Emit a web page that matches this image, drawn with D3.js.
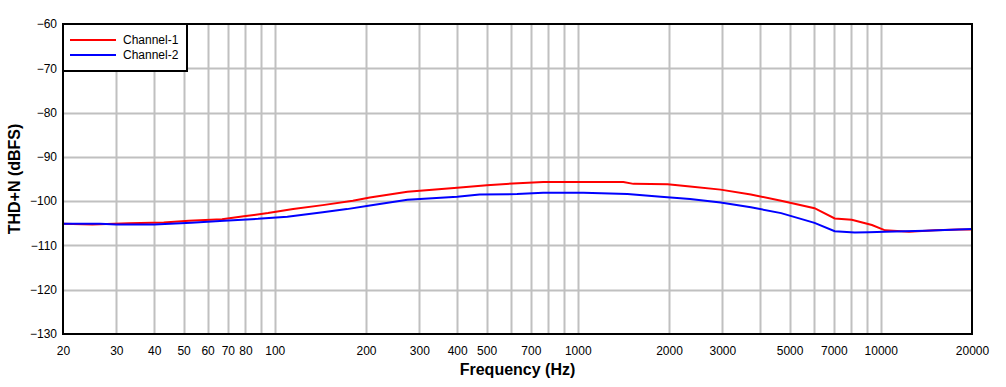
<!DOCTYPE html>
<html>
<head>
<meta charset="utf-8">
<script src="https://cdn.jsdelivr.net/npm/d3@7"></script>
<style>
    body { margin: 0; background: #fff; }
    text { font-family: "Liberation Sans", Arial, sans-serif; }
</style>
</head>
<body>
<div id="chart"></div>
<script>
// frequency (Hz) / THD+N (dBFS)
const ch1Freq = [20, 25, 33, 43, 52, 67, 79, 95, 115, 144, 181, 206, 274, 400, 501, 611, 769, 1020, 1414, 1526, 1980, 2347, 2960, 3725, 4688, 6044, 7047, 8020, 9350, 10330, 12400, 15100, 18100, 20000];
const ch1Db   = [-105.1, -105.3, -105.0, -104.8, -104.4, -104.1, -103.4, -102.7, -101.8, -100.9, -99.9, -99.2, -97.9, -97.0, -96.4, -96.0, -95.7, -95.7, -95.7, -96.1, -96.2, -96.7, -97.4, -98.5, -99.9, -101.6, -103.9, -104.2, -105.4, -106.6, -106.9, -106.6, -106.4, -106.4];

const ch2Freq = [20, 26.5, 30, 40, 53, 68, 88, 110, 144, 173, 206, 274, 400, 474, 630, 769, 1044, 1458, 1880, 2347, 2960, 3725, 4688, 6044, 7047, 8200, 9130, 10330, 14000, 20000];
const ch2Db   = [-105.1, -105.1, -105.3, -105.3, -104.9, -104.4, -104.0, -103.5, -102.5, -101.8, -101.0, -99.7, -99.0, -98.5, -98.4, -98.1, -98.1, -98.4, -99.0, -99.5, -100.3, -101.4, -102.7, -104.9, -106.8, -107.1, -107.0, -106.9, -106.7, -106.3];

const xTickLabels = [20, 30, 40, 50, 60, 70, 80, 100, 200, 300, 400, 500, 700, 1000, 2000, 3000, 5000, 7000, 10000, 20000];
const yTicks = [-60, -70, -80, -90, -100, -110, -120, -130];
const seriesNames = ['Channel-1', 'Channel-2'];
const seriesColors = ['#ff0000', '#0000ff'];

const W = 1006, H = 387;
const margin = { top: 24, right: 34, bottom: 53, left: 63 };
const width = W - margin.left - margin.right;
const height = H - margin.top - margin.bottom;

const svg = d3.select('#chart').append('svg')
    .attr('width', W)
    .attr('height', H);

const g = svg.append('g')
    .attr('transform', `translate(${margin.left},${margin.top})`);

const x = d3.scaleLog().domain([20, 20000]).range([0, width]);
const y = d3.scaleLinear().domain([-130, -60]).range([height, 0]);

// gridlines at every 1..9 multiple of each decade
const gridFreqs = [];
[10, 100, 1000, 10000].forEach(dec => {
    for (let m = 1; m <= 9; m++) {
        const f = dec * m;
        if (f > 20 && f < 20000) gridFreqs.push(f);
    }
});

g.append('g')
    .selectAll('line')
    .data(gridFreqs)
    .join('line')
    .attr('x1', d => Math.round(x(d)) + 0.5)
    .attr('x2', d => Math.round(x(d)) + 0.5)
    .attr('y1', 0)
    .attr('y2', height)
    .attr('stroke', '#c0c0c0')
    .attr('stroke-width', 2);

g.append('g')
    .selectAll('line')
    .data(yTicks.slice(1, -1))
    .join('line')
    .attr('x1', 0)
    .attr('x2', width)
    .attr('y1', d => Math.round(y(d)) + 0.5)
    .attr('y2', d => Math.round(y(d)) + 0.5)
    .attr('stroke', '#c0c0c0')
    .attr('stroke-width', 2);

// axes (tick labels only, the frame is drawn below)
const xAxis = d3.axisBottom(x)
    .tickValues(xTickLabels)
    .tickFormat(d3.format('d'))
    .tickSize(0)
    .tickPadding(12);
g.append('g')
    .attr('transform', `translate(0,${height})`)
    .call(xAxis)
    .call(a => a.select('.domain').remove())
    .selectAll('text')
    .attr('font-size', 12)
    .attr('fill', '#000')
    .style('font-family', '"Liberation Sans", Arial, sans-serif');

const yAxis = d3.axisLeft(y)
    .tickValues(yTicks)
    .tickSize(0)
    .tickPadding(6);
g.append('g')
    .call(yAxis)
    .call(a => a.select('.domain').remove())
    .selectAll('text')
    .attr('font-size', 12)
    .attr('fill', '#000')
    .style('font-family', '"Liberation Sans", Arial, sans-serif');

// curves
const line = d3.line()
    .x(d => x(d[0]))
    .y(d => y(d[1]));

const series = [
    d3.zip(ch1Freq, ch1Db),
    d3.zip(ch2Freq, ch2Db)
];

series.forEach((s, i) => {
    g.append('path')
        .datum(s)
        .attr('d', line)
        .attr('fill', 'none')
        .attr('stroke', seriesColors[i])
        .attr('stroke-width', 2);
});

// plot frame
g.append('rect')
    .attr('x', 0)
    .attr('y', 0)
    .attr('width', width)
    .attr('height', height)
    .attr('fill', 'none')
    .attr('stroke', '#000')
    .attr('stroke-width', 2);

// legend
const legend = g.append('g');
legend.append('rect')
    .attr('x', 0)
    .attr('y', 0)
    .attr('width', 124)
    .attr('height', 47)
    .attr('fill', '#fff')
    .attr('stroke', '#000')
    .attr('stroke-width', 2);

seriesNames.forEach((name, i) => {
    const ly = 16 + i * 15;
    legend.append('line')
        .attr('x1', 7)
        .attr('x2', 53)
        .attr('y1', ly)
        .attr('y2', ly)
        .attr('stroke', seriesColors[i])
        .attr('stroke-width', 2);
    legend.append('text')
        .attr('x', 60)
        .attr('y', ly + 4)
        .attr('font-size', 12)
        .text(name);
});

// axis titles
svg.append('text')
    .attr('x', margin.left + width / 2)
    .attr('y', 375)
    .attr('text-anchor', 'middle')
    .attr('font-size', 16)
    .attr('font-weight', 'bold')
    .text('Frequency (Hz)');

svg.append('text')
    .attr('transform', `translate(20,${margin.top + height / 2}) rotate(-90)`)
    .attr('text-anchor', 'middle')
    .attr('font-size', 16)
    .attr('font-weight', 'bold')
    .text('THD+N (dBFS)');
</script>
</body>
</html>
